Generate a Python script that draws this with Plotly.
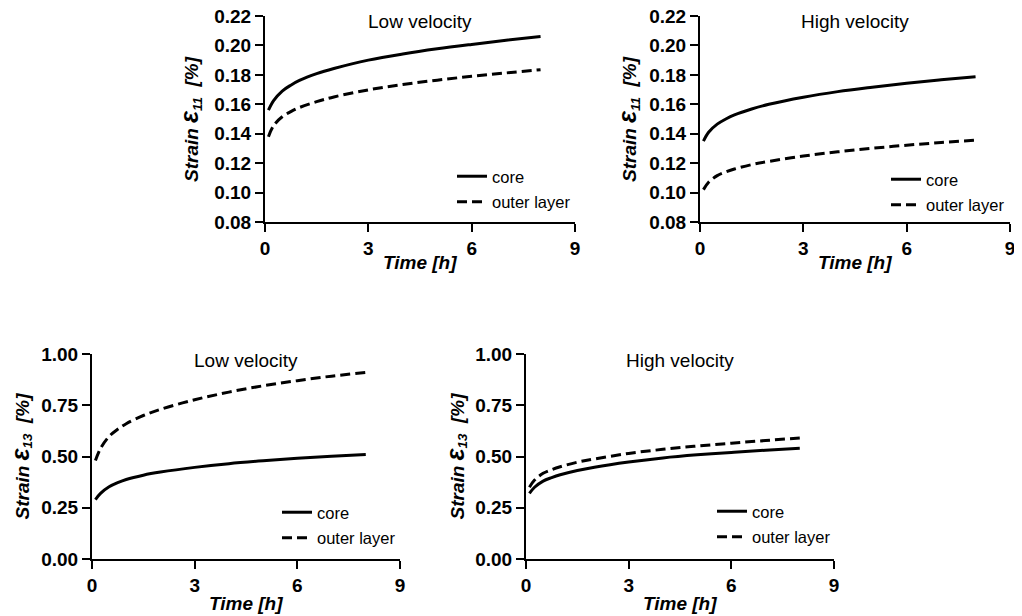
import plotly.graph_objects as go

# ---------------- data ----------------
time_h = [0.1, 0.25, 0.5, 0.75, 1, 1.5, 2, 3, 4, 5, 6, 7, 8]

e11_low_core = [0.156, 0.1625, 0.1690, 0.1730, 0.1762, 0.1808, 0.1843, 0.1900, 0.1942, 0.1977, 0.2007, 0.2035, 0.2060]
e11_low_outer = [0.138, 0.1455, 0.1515, 0.1550, 0.1578, 0.1618, 0.1650, 0.1698, 0.1734, 0.1764, 0.1790, 0.1813, 0.1835]
e11_high_core = [0.135, 0.141, 0.1465, 0.1500, 0.1528, 0.1568, 0.1600, 0.1648, 0.1686, 0.1716, 0.1743, 0.1766, 0.1787]
e11_high_outer = [0.102, 0.1070, 0.1115, 0.1140, 0.1160, 0.1190, 0.1212, 0.1248, 0.1277, 0.1301, 0.1322, 0.1340, 0.1356]
e13_low_core = [0.29, 0.320, 0.352, 0.372, 0.388, 0.409, 0.424, 0.447, 0.465, 0.479, 0.491, 0.501, 0.510]
e13_low_outer = [0.48, 0.540, 0.598, 0.633, 0.660, 0.700, 0.730, 0.777, 0.814, 0.845, 0.870, 0.892, 0.910]
e13_high_core = [0.32, 0.350, 0.380, 0.397, 0.411, 0.432, 0.448, 0.473, 0.493, 0.508, 0.520, 0.531, 0.540]
e13_high_outer = [0.35, 0.385, 0.418, 0.436, 0.450, 0.472, 0.488, 0.515, 0.535, 0.551, 0.565, 0.578, 0.590]

panel_titles = ["Low velocity", "High velocity", "Low velocity", "High velocity"]
series_names = ["core", "outer layer"]
x_title = "Time [h]"
x_ticks = [0, 3, 6, 9]
y_ticks_e11 = [0.08, 0.10, 0.12, 0.14, 0.16, 0.18, 0.20, 0.22]
y_ticks_e13 = [0.00, 0.25, 0.50, 0.75, 1.00]

# ---------------- layout geometry (page pixels) ----------------
OFF = 8                      # default body margin of the html page
W, H = 1022 - OFF, 616 - OFF
panels = [
    # (left, right, top, bottom) plot area in page px
    (265, 575, 16, 222),
    (700, 1010, 16, 222),
    (92, 400, 354, 559),
    (526, 834, 354, 559),
]
legend_pos = [(452, 159), (886, 162), (277, 495), (712, 494)]
ytitle_x = [190, 628, 20, 455]
xtitle_y = [262, 262, 603, 603]


def px(x):
    return (x - OFF) / W


def py(y):
    return 1 - (y - OFF) / H


data_sets = [
    (e11_low_core, e11_low_outer, y_ticks_e11, "11"),
    (e11_high_core, e11_high_outer, y_ticks_e11, "11"),
    (e13_low_core, e13_low_outer, y_ticks_e13, "13"),
    (e13_high_core, e13_high_outer, y_ticks_e13, "13"),
]

FONT = "Arial, Liberation Sans, sans-serif"
fig = go.Figure()
layout = dict(
    width=W, height=H, margin=dict(l=0, r=0, t=0, b=0, autoexpand=False),
    paper_bgcolor="white", plot_bgcolor="white",
    font=dict(family=FONT, color="black"),
    annotations=[],
)

for i, ((l, r, t, b), (core, outer, yt, sub)) in enumerate(zip(panels, data_sets)):
    n = i + 1
    xa = "x" if n == 1 else f"x{n}"
    ya = "y" if n == 1 else f"y{n}"
    lg = "legend" if n == 1 else f"legend{n}"
    for vals, name, dash, grp in [(core, series_names[0], "solid", "a"),
                                   (outer, series_names[1], "10px,5px", "b")]:
        fig.add_trace(go.Scatter(
            x=time_h, y=vals, mode="lines", name=name,
            line=dict(color="black", width=3, dash=dash, shape="spline", smoothing=1.0),
            xaxis=xa, yaxis=ya, legend=lg, legendgroup=f"{n}{grp}",
            showlegend=True,
        ))
    axis_common = dict(
        showline=True, linecolor="black", linewidth=2,
        ticks="outside", ticklen=8, tickwidth=2, tickcolor="black",
        showgrid=False, zeroline=False, automargin=False,
        ticklabeloverflow="allow",
        tickfont=dict(family=FONT, size=19, color="black", weight="bold"),
    )
    layout["xaxis" if n == 1 else f"xaxis{n}"] = dict(
        axis_common, domain=[px(l), px(r)], range=[0, 9],
        tickvals=x_ticks, anchor=ya,
    )
    layout["yaxis" if n == 1 else f"yaxis{n}"] = dict(
        axis_common, domain=[py(b), py(t)], range=[yt[0], yt[-1]],
        tickvals=yt, tickformat=".2f", anchor=xa,
    )
    lx, ly = legend_pos[i]
    layout[lg] = dict(
        x=px(lx), y=py(ly), xanchor="left", yanchor="top",
        bgcolor="rgba(0,0,0,0)", borderwidth=0,
        font=dict(family=FONT, size=16.5, color="black"),
        traceorder="grouped", tracegroupgap=1,
    )
    # panel title
    layout["annotations"].append(dict(
        text=panel_titles[i], xref="paper", yref="paper",
        x=px((l + r) / 2), y=py(t + 6), xanchor="center", yanchor="middle",
        showarrow=False, font=dict(family=FONT, size=19, color="black"),
    ))
    # x-axis title
    layout["annotations"].append(dict(
        text=f"<b><i>{x_title}</i></b>", xref="paper", yref="paper",
        x=px((l + r) / 2), y=py(xtitle_y[i]), xanchor="center", yanchor="middle",
        showarrow=False, font=dict(family=FONT, size=19, color="black"),
    ))
    # y-axis title
    layout["annotations"].append(dict(
        text=(f"<b><i>Strain <span style='font-size:25px'>ε</span>"
              f"<sub>{sub}</sub>  [%]</i></b>"),
        xref="paper", yref="paper", textangle=-90,
        x=px(ytitle_x[i]), y=py((t + b) / 2), xanchor="center", yanchor="middle",
        showarrow=False, font=dict(family=FONT, size=19, color="black"),
    ))

fig.update_layout(**layout)
fig.write_html("out.html")
